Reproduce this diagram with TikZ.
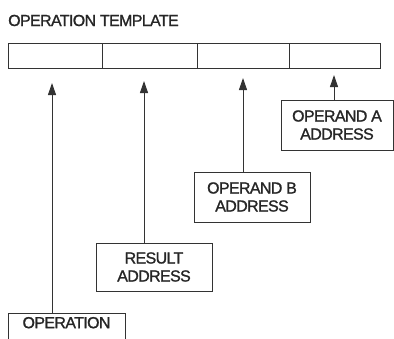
\documentclass[tikz,border=0pt]{standalone}
\usepackage{fontspec}
\setmainfont{Liberation Sans}
\newfontfamily\tightfont[LetterSpace=-4,FakeBold=1.3]{Liberation Sans}
\usetikzlibrary{arrows.meta}
\begin{document}
\begin{tikzpicture}[x=1pt,y=-1pt,
  ln/.style={draw=black!80,line width=1pt},
  cell/.style={ln,rectangle,minimum height=25pt,inner sep=0pt,anchor=north west},
  lbl/.style={ln,rectangle,align=center,inner sep=0pt,text=black!85,font=\tightfont\fontsize{16}{18}\selectfont},
  arr/.style={draw=black!80,line width=1pt,-{Triangle[width=8pt,length=12pt]}}]
\useasboundingbox (0,0) rectangle (394,338);
\begin{scope}
\clip (0,0) rectangle (394,338);
\node[anchor=base west,inner sep=0pt,text=black!85,font=\tightfont\fontsize{16}{18}\selectfont] (title) at (8,26) {OPERATION TEMPLATE};
\node[cell,minimum width=94pt] (c1) at (8,43) {};
\node[cell,minimum width=95pt] (c2) at (102,43) {};
\node[cell,minimum width=92pt] (c3) at (197,43) {};
\node[cell,minimum width=91pt] (c4) at (289,43) {};
\node[lbl,minimum width=112pt,minimum height=50pt] (opa) at (337,125) {OPERAND A\\ADDRESS};
\node[lbl,minimum width=116pt,minimum height=50pt] (opb) at (252,197) {OPERAND B\\ADDRESS};
\node[lbl,minimum width=116pt,minimum height=48pt] (res) at (154,267) {RESULT\\ADDRESS};
\node[lbl,anchor=north,minimum width=117pt,text height=11.7pt,text depth=22pt,inner ysep=3pt] (op) at (66.5,313) {OPERATION};
\coordinate (t1) at (52,83);
\coordinate (t2) at (144,81);
\coordinate (t3) at (243,78);
\coordinate (t4) at (334,75);
\draw[arr] (t1 |- op.north) -- (t1);
\draw[arr] (t2 |- res.north) -- (t2);
\draw[arr] (t3 |- opb.north) -- (t3);
\draw[arr] (t4 |- opa.north) -- (t4);
\end{scope}
\end{tikzpicture}
\end{document}
